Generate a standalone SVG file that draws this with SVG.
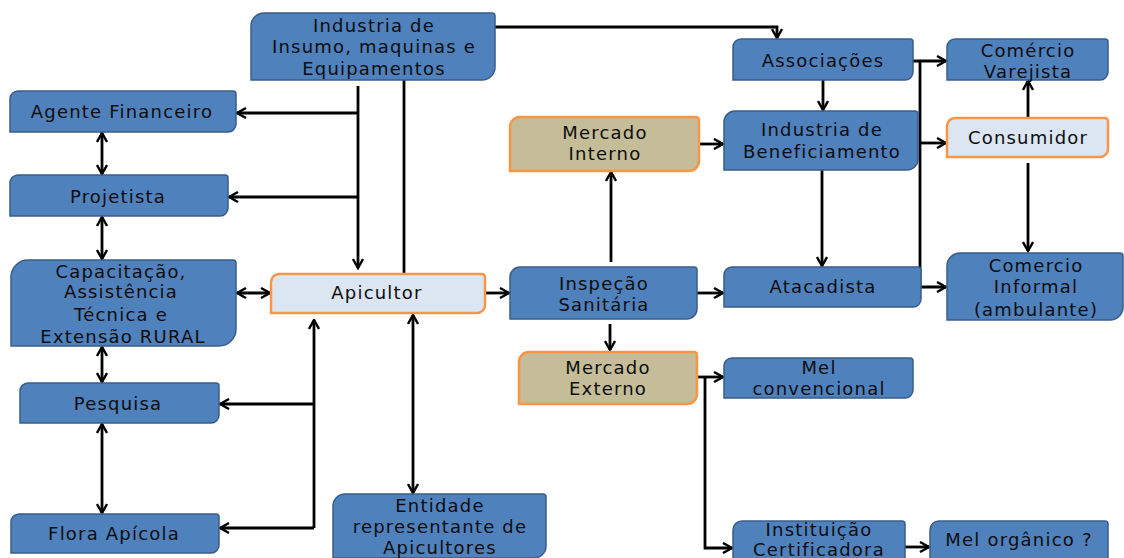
<svg xmlns="http://www.w3.org/2000/svg" width="1124" height="558" viewBox="0 0 1124 558">
  <style>
    .blue { fill: #4f81bd; stroke: #385d8a; stroke-width: 1.5; }
    .tan { fill: #c4bd97; stroke: #f79646; stroke-width: 2.5; }
    .light { fill: #dce6f2; stroke: #f79646; stroke-width: 2.5; }
    .t { font-family: "DejaVu Sans", "Liberation Sans", sans-serif; font-size: 18px; letter-spacing: 1.2px; fill: #0d0d0d; text-anchor: middle; }
    .c { fill: none; stroke: #000; stroke-width: 2.8; }
    .a { marker-end: url(#ah); }
    .b { marker-start: url(#ah); marker-end: url(#ah); }
  </style>
  <defs>
    <marker id="ah" viewBox="0 0 12 12" refX="10.5" refY="6" markerWidth="12" markerHeight="12" markerUnits="userSpaceOnUse" orient="auto-start-reverse">
      <path d="M1.5,1 L10.5,6 L1.5,11" fill="none" stroke="#000" stroke-width="2.4"/>
    </marker>
  </defs>
  <rect width="1124" height="558" fill="#fff"/>

  <!-- connectors -->
  <g id="connectors">
    <path class="c a" d="M495,27 H777 V38"/>
    <path class="c a" d="M358,86 V268"/>
    <path class="c a" d="M358,113 H237"/>
    <path class="c a" d="M358,197 H229"/>
    <path class="c" d="M404,80 V274"/>
    <path class="c b" d="M102,133 V174"/>
    <path class="c b" d="M102,217 V259"/>
    <path class="c b" d="M102,347 V382"/>
    <path class="c b" d="M102,424 V513"/>
    <path class="c b" d="M237,293 H270"/>
    <path class="c a" d="M314,528 V320"/>
    <path class="c a" d="M314,404 H220"/>
    <path class="c a" d="M314,528 H220"/>
    <path class="c b" d="M413,315 V493"/>
    <path class="c a" d="M485,293 H509"/>
    <path class="c a" d="M611,262 V172"/>
    <path class="c a" d="M699,144 H723"/>
    <path class="c a" d="M697,293 H723"/>
    <path class="c a" d="M610,324 V350"/>
    <path class="c a" d="M697,377 H723"/>
    <path class="c a" d="M705,377 V548 H732"/>
    <path class="c a" d="M905,547 H929"/>
    <path class="c a" d="M823,80 V110"/>
    <path class="c a" d="M822,170 V266"/>
    <path class="c a" d="M913,61 H946"/>
    <path class="c a" d="M920,61 V287 H946"/>
    <path class="c a" d="M920,143 H946"/>
    <path class="c a" d="M1028,117 V81"/>
    <path class="c a" d="M1028,163 V251"/>
  </g>

  <g id="industria-insumo">
    <path class="blue" d="M264,13 H492 A3,3 0 0 1 495,16 V67 A13,13 0 0 1 482,80 H251 V26 A13,13 0 0 1 264,13 Z"/>
    <text class="t" x="374" y="32">Industria de</text>
    <text class="t" x="374" y="53">Insumo, maquinas e</text>
    <text class="t" x="374" y="75">Equipamentos</text>
  </g>

  <g id="agente-financeiro">
    <path class="blue" d="M18,91 H233 A3,3 0 0 1 236,94 V124 A8,8 0 0 1 228,132 H10 V99 A8,8 0 0 1 18,91 Z"/>
    <text class="t" x="122" y="118">Agente Financeiro</text>
  </g>

  <g id="projetista">
    <path class="blue" d="M18,175 H225 A3,3 0 0 1 228,178 V208 A8,8 0 0 1 220,216 H10 V183 A8,8 0 0 1 18,175 Z"/>
    <text class="t" x="118" y="203">Projetista</text>
  </g>

  <g id="capacitacao">
    <path class="blue" d="M28,260 H233 A3,3 0 0 1 236,263 V329 A17,17 0 0 1 219,346 H11 V277 A17,17 0 0 1 28,260 Z"/>
    <text class="t" x="121" y="278">Capacitação,</text>
    <text class="t" x="121" y="298">Assistência</text>
    <text class="t" x="121" y="321">Técnica e</text>
    <text class="t" x="123" y="343">Extensão RURAL</text>
  </g>

  <g id="pesquisa">
    <path class="blue" d="M28,383 H216 A3,3 0 0 1 219,386 V415 A8,8 0 0 1 211,423 H20 V391 A8,8 0 0 1 28,383 Z"/>
    <text class="t" x="118" y="410">Pesquisa</text>
  </g>

  <g id="flora-apicola">
    <path class="blue" d="M19,514 H216 A3,3 0 0 1 219,517 V545 A8,8 0 0 1 211,553 H11 V522 A8,8 0 0 1 19,514 Z"/>
    <text class="t" x="114" y="540">Flora Apícola</text>
  </g>

  <g id="apicultor">
    <path class="light" d="M279,274 H482 A3,3 0 0 1 485,277 V305 A8,8 0 0 1 477,313 H271 V282 A8,8 0 0 1 279,274 Z"/>
    <text class="t" x="377" y="299">Apicultor</text>
  </g>

  <g id="entidade">
    <path class="blue" d="M345,494 H543 A3,3 0 0 1 546,497 V546 A12,12 0 0 1 534,558 H333 V506 A12,12 0 0 1 345,494 Z"/>
    <text class="t" x="440" y="512">Entidade</text>
    <text class="t" x="440" y="533">representante de</text>
    <text class="t" x="440" y="554">Apicultores</text>
  </g>

  <g id="inspecao">
    <path class="blue" d="M520,267 H694 A3,3 0 0 1 697,270 V309 A10,10 0 0 1 687,319 H510 V277 A10,10 0 0 1 520,267 Z"/>
    <text class="t" x="604" y="290">Inspeção</text>
    <text class="t" x="604" y="311">Sanitária</text>
  </g>

  <g id="mercado-interno">
    <path class="tan" d="M520,117 H696 A3,3 0 0 1 699,120 V161 A10,10 0 0 1 689,171 H510 V127 A10,10 0 0 1 520,117 Z"/>
    <text class="t" x="605" y="139">Mercado</text>
    <text class="t" x="605" y="160">Interno</text>
  </g>

  <g id="mercado-externo">
    <path class="tan" d="M529,352 H694 A3,3 0 0 1 697,355 V394 A10,10 0 0 1 687,404 H519 V362 A10,10 0 0 1 529,352 Z"/>
    <text class="t" x="608" y="374">Mercado</text>
    <text class="t" x="608" y="395">Externo</text>
  </g>

  <g id="associacoes">
    <path class="blue" d="M741,39 H910 A3,3 0 0 1 913,42 V72 A8,8 0 0 1 905,80 H733 V47 A8,8 0 0 1 741,39 Z"/>
    <text class="t" x="823" y="67">Associações</text>
  </g>

  <g id="industria-beneficiamento">
    <path class="blue" d="M735,111 H915 A3,3 0 0 1 918,114 V159 A11,11 0 0 1 907,170 H724 V122 A11,11 0 0 1 735,111 Z"/>
    <text class="t" x="822" y="136">Industria de</text>
    <text class="t" x="822" y="158">Beneficiamento</text>
  </g>

  <g id="atacadista">
    <path class="blue" d="M732,267 H918 A3,3 0 0 1 921,270 V299 A8,8 0 0 1 913,307 H724 V275 A8,8 0 0 1 732,267 Z"/>
    <text class="t" x="823" y="293">Atacadista</text>
  </g>

  <g id="comercio-varejista">
    <path class="blue" d="M955,39 H1105 A3,3 0 0 1 1108,42 V72 A8,8 0 0 1 1100,80 H947 V47 A8,8 0 0 1 955,39 Z"/>
    <text class="t" x="1028" y="57">Comércio</text>
    <text class="t" x="1028" y="78">Varejista</text>
  </g>

  <g id="consumidor">
    <path class="light" d="M955,118 H1105 A3,3 0 0 1 1108,121 V149 A8,8 0 0 1 1100,157 H947 V126 A8,8 0 0 1 955,118 Z"/>
    <text class="t" x="1028" y="144">Consumidor</text>
  </g>

  <g id="comercio-informal">
    <path class="blue" d="M960,253 H1120 A3,3 0 0 1 1123,256 V307 A13,13 0 0 1 1110,320 H947 V266 A13,13 0 0 1 960,253 Z"/>
    <text class="t" x="1036" y="272">Comercio</text>
    <text class="t" x="1036" y="293">Informal</text>
    <text class="t" x="1036" y="316">(ambulante)</text>
  </g>

  <g id="mel-convencional">
    <path class="blue" d="M732,358 H910 A3,3 0 0 1 913,361 V390 A8,8 0 0 1 905,398 H724 V366 A8,8 0 0 1 732,358 Z"/>
    <text class="t" x="819" y="374">Mel</text>
    <text class="t" x="819" y="395">convencional</text>
  </g>

  <g id="instituicao-certificadora">
    <path class="blue" d="M742,521 H902 A3,3 0 0 1 905,524 V557 A9,9 0 0 1 896,566 H733 V530 A9,9 0 0 1 742,521 Z"/>
    <text class="t" x="819" y="536">Instituição</text>
    <text class="t" x="819" y="556">Certificadora</text>
  </g>

  <g id="mel-organico">
    <path class="blue" d="M939,521 H1105 A3,3 0 0 1 1108,524 V557 A9,9 0 0 1 1099,566 H930 V530 A9,9 0 0 1 939,521 Z"/>
    <text class="t" x="1019" y="546">Mel orgânico ?</text>
  </g>
</svg>
